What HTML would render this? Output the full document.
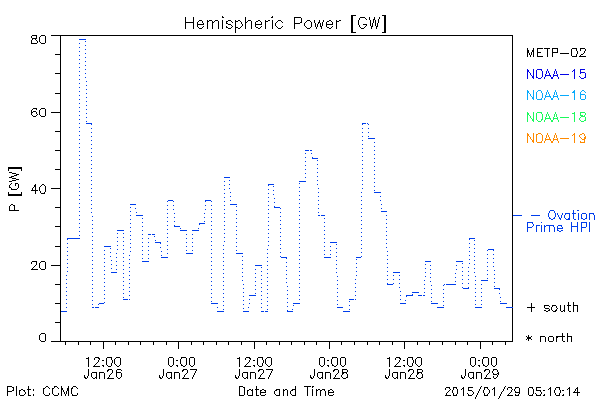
<!DOCTYPE html>
<html lang="en">
<head>
<meta charset="utf-8">
<title>Hemispheric Power [GW]</title>
<style>
html,body{margin:0;padding:0;background:#fff;font-family:"Liberation Sans",sans-serif;}
#plot{display:block;width:600px;height:400px;background:#fff;}
#plot path{fill:none;stroke-width:1;shape-rendering:crispEdges;}
#plot path.h{transform:translate(0,0.5px);}
#plot path.v{transform:translate(0.5px,0);}
</style>
</head>
<body>
<svg id="plot" width="600" height="400" viewBox="0 0 600 400" role="img" aria-label="Hemispheric Power [GW] versus Date and Time">
<rect width="600" height="400" fill="#fff"/>
<g>
<g class="axes" stroke="#000000"><title>Plot frame and axis ticks</title><path class="h" d="M51 35h462M55 54h5M55 73h5M55 93h5M51 112h9M55 131h5M55 150h5M55 169h5M51 188h9M55 207h5M55 226h5M55 246h5M51 265h9M55 284h5M55 303h5M55 322h5M51 341h462"/><path class="v" d="M60 36v305M65 342v3M78 342v3M90 342v3M103 342v7M115 342v3M128 342v3M140 342v3M153 342v3M166 342v3M178 342v7M191 342v3M203 342v3M216 342v3M228 342v3M241 342v3M254 342v7M266 342v3M279 342v3M291 342v3M304 342v3M316 342v3M329 342v7M341 342v3M354 342v3M367 342v3M379 342v3M392 342v3M404 342v7M417 342v3M429 342v3M442 342v3M455 342v3M467 342v3M480 342v7M492 342v3M505 342v3M512 36v305"/></g>
<g class="series" stroke="#003eec"><title>Ovation Prime hemispheric power, hourly step series (dotted connectors)</title><path class="h" d="M79 39h7M85 41h1M79 43h1M85 45h1M79 47h1M85 49h1M79 51h1M85 53h1M79 55h1M85 57h1M79 59h1M85 61h1M79 63h1M85 65h1M79 67h1M85 69h1M79 71h1M85 73h1M79 75h1M85 77h1M79 79h1M86 81h1M79 83h1M86 85h1M79 87h1M86 89h1M79 91h1M86 93h1M79 95h1M86 97h1M79 99h1M86 101h1M79 103h1M86 105h1M79 107h1M86 109h1M79 111h1M86 113h1M79 115h1M86 117h1M79 119h1M86 121h1M79 123h1M86 123h6M362 123h4M367 123h1M368 124h1M79 127h1M91 128h1M362 128h1M368 128h1M79 131h1M91 132h1M362 132h1M368 132h1M79 135h1M91 136h1M362 136h1M368 136h1M368 138h7M79 139h1M91 140h1M362 140h1M374 142h1M79 143h1M91 144h1M362 144h1M374 146h1M79 147h1M91 148h1M362 148h1M305 150h4M310 150h2M374 150h1M79 151h1M91 152h1M362 152h1M305 153h1M311 153h1M374 154h1M79 155h1M91 156h1M362 156h1M305 157h1M312 158h6M374 158h1M79 159h1M91 160h1M317 160h1M362 160h1M305 161h1M374 162h1M79 163h1M91 164h1M317 164h1M362 164h1M305 165h1M374 166h1M79 167h1M91 168h1M317 168h1M362 168h1M305 169h1M374 170h1M79 171h1M91 172h1M317 172h1M362 172h1M305 173h1M374 174h1M79 175h1M91 176h1M317 176h1M362 176h1M224 177h6M305 177h1M374 178h1M79 179h1M91 180h1M229 180h1M317 180h1M362 180h1M224 181h1M299 181h7M374 182h1M79 183h1M299 183h1M91 184h1M229 184h1M268 184h6M317 184h1M362 184h1M224 185h1M273 186h1M374 186h1M79 187h1M299 187h1M91 188h1M229 188h1M318 188h1M362 188h1M224 189h1M268 189h1M273 190h1M374 190h1M79 191h1M299 191h1M91 192h1M230 192h1M318 192h1M361 192h1M374 192h7M224 193h1M268 193h1M273 194h1M79 195h1M299 195h1M91 196h1M230 196h1M318 196h1M361 196h1M380 196h1M224 197h1M268 197h1M274 198h1M79 199h1M299 199h1M91 200h1M168 200h5M205 200h6M230 200h1M318 200h1M361 200h1M380 200h1M167 201h1M173 201h1M211 201h1M224 201h1M268 201h1M274 202h1M79 203h1M299 203h1M91 204h1M130 204h6M230 204h7M318 204h1M361 204h1M381 204h1M167 205h1M173 205h1M205 205h1M211 205h1M224 205h1M268 205h1M236 206h1M79 207h1M130 207h1M274 207h6M299 207h1M91 208h1M135 208h1M280 208h1M318 208h1M361 208h1M381 208h1M167 209h1M173 209h1M205 209h1M211 209h1M224 209h1M268 209h1M236 210h1M79 211h1M130 211h1M299 211h1M381 211h6M91 212h1M136 212h1M280 212h1M318 212h1M361 212h1M167 213h1M174 213h1M204 213h1M211 213h1M224 213h1M268 213h1M236 214h1M79 215h1M130 215h1M136 215h7M299 215h1M318 215h2M321 215h4M386 215h1M92 216h1M280 216h1M361 216h1M167 217h1M174 217h1M204 217h1M211 217h1M224 217h1M268 217h1M142 218h1M236 218h1M324 218h1M79 219h1M130 219h1M299 219h1M386 219h1M92 220h1M280 220h1M361 220h1M167 221h1M174 221h1M204 221h1M211 221h1M224 221h1M268 221h1M142 222h1M236 222h1M324 222h1M79 223h1M130 223h1M199 223h6M299 223h1M386 223h1M92 224h1M280 224h1M361 224h1M167 225h1M211 225h1M224 225h1M268 225h1M142 226h1M174 226h6M236 226h1M324 226h1M79 227h1M130 227h1M299 227h1M386 227h1M92 228h1M180 228h1M198 228h1M280 228h1M361 228h1M167 229h1M211 229h1M224 229h1M268 229h1M117 230h7M142 230h1M180 230h7M192 230h7M236 230h1M324 230h1M79 231h1M130 231h1M299 231h1M386 231h1M92 232h1M280 232h1M361 232h1M117 233h1M123 233h1M167 233h1M211 233h1M224 233h1M268 233h1M142 234h1M148 234h3M152 234h3M186 234h1M192 234h1M236 234h1M324 234h1M79 235h1M130 235h1M299 235h1M386 235h1M92 236h1M154 236h1M280 236h1M361 236h1M117 237h1M123 237h1M167 237h1M211 237h1M224 237h1M268 237h1M67 238h13M142 238h1M148 238h1M186 238h1M192 238h1M236 238h1M324 238h1M469 238h6M130 239h1M299 239h1M386 239h1M92 240h1M155 240h1M280 240h1M361 240h1M474 240h1M117 241h1M123 241h1M167 241h1M211 241h1M224 241h1M268 241h1M142 242h1M148 242h1M155 242h6M186 242h1M192 242h1M236 242h1M324 242h1M330 242h7M67 243h1M130 243h1M299 243h1M386 243h1M469 243h1M92 244h1M280 244h1M336 244h1M361 244h1M474 244h1M117 245h1M123 245h1M167 245h1M211 245h1M223 245h1M268 245h1M104 246h7M142 246h1M148 246h1M186 246h1M192 246h1M236 246h1M324 246h1M330 246h1M67 247h1M130 247h1M160 247h1M299 247h1M386 247h1M469 247h1M92 248h1M110 248h1M280 248h1M336 248h1M361 248h1M474 248h1M117 249h1M123 249h1M167 249h1M211 249h1M223 249h1M267 249h1M488 249h6M104 250h1M142 250h1M148 250h1M186 250h1M192 250h1M236 250h1M324 250h1M330 250h1M487 250h1M67 251h1M130 251h1M161 251h1M299 251h1M387 251h1M469 251h1M92 252h1M110 252h1M280 252h1M336 252h1M361 252h1M474 252h1M116 253h1M123 253h1M167 253h1M186 253h7M211 253h1M223 253h1M236 253h7M267 253h1M104 254h1M142 254h1M148 254h1M324 254h1M330 254h1M487 254h1M493 254h1M67 255h1M129 255h1M161 255h1M299 255h1M387 255h1M469 255h1M92 256h1M110 256h1M242 256h1M280 256h1M336 256h1M361 256h1M474 256h1M116 257h1M123 257h1M161 257h7M211 257h1M223 257h1M267 257h1M281 257h6M324 257h7M356 257h5M104 258h1M142 258h1M148 258h1M487 258h1M493 258h1M67 259h1M129 259h1M299 259h1M356 259h1M387 259h1M469 259h1M92 260h1M111 260h1M242 260h1M336 260h1M474 260h1M116 261h1M123 261h1M142 261h7M211 261h1M223 261h1M267 261h1M425 261h6M456 261h7M104 262h1M286 262h1M487 262h1M493 262h1M67 263h1M129 263h1M299 263h1M356 263h1M387 263h1M462 263h1M469 263h1M92 264h1M111 264h1M242 264h1M336 264h1M425 264h1M474 264h1M116 265h1M123 265h1M211 265h1M223 265h1M255 265h7M267 265h1M430 265h1M456 265h1M104 266h1M286 266h1M487 266h1M493 266h1M67 267h1M129 267h1M261 267h1M299 267h1M356 267h1M387 267h1M462 267h1M468 267h1M92 268h1M111 268h1M242 268h1M336 268h1M425 268h1M474 268h1M116 269h1M123 269h1M211 269h1M223 269h1M255 269h1M267 269h1M430 269h1M456 269h1M104 270h1M286 270h1M487 270h1M494 270h1M67 271h1M129 271h1M261 271h1M299 271h1M356 271h1M387 271h1M462 271h1M468 271h1M92 272h1M111 272h6M242 272h1M336 272h1M393 272h7M425 272h1M474 272h1M123 273h1M211 273h1M223 273h1M255 273h1M267 273h1M430 273h1M455 273h1M104 274h1M286 274h1M487 274h1M494 274h1M66 275h1M129 275h1M261 275h1M299 275h1M356 275h1M387 275h1M393 275h1M399 275h1M462 275h1M468 275h1M92 276h1M242 276h1M337 276h1M425 276h1M475 276h1M123 277h1M211 277h1M223 277h1M255 277h1M267 277h1M430 277h1M455 277h1M104 278h1M286 278h1M487 278h1M494 278h1M66 279h1M129 279h1M261 279h1M299 279h1M355 279h1M387 279h1M393 279h1M399 279h1M462 279h1M468 279h1M92 280h1M242 280h1M337 280h1M424 280h1M475 280h1M481 280h7M123 281h1M211 281h1M223 281h1M255 281h1M267 281h1M430 281h1M455 281h1M104 282h1M286 282h1M494 282h1M66 283h1M129 283h1M261 283h1M299 283h1M355 283h1M393 283h1M399 283h1M462 283h1M468 283h1M92 284h1M243 284h1M337 284h1M387 284h6M424 284h1M444 284h1M446 284h10M475 284h1M481 284h1M123 285h1M211 285h1M223 285h1M255 285h1M267 285h1M431 285h1M443 285h1M104 286h1M287 286h1M494 286h1M66 287h1M129 287h1M261 287h1M299 287h1M355 287h1M399 287h1M462 287h1M92 288h1M243 288h1M337 288h1M424 288h1M463 288h6M475 288h1M481 288h1M494 288h6M123 289h1M211 289h1M223 289h1M255 289h1M267 289h1M431 289h1M443 289h1M104 290h1M287 290h1M66 291h1M129 291h1M261 291h1M299 291h1M355 291h1M400 291h1M92 292h1M243 292h1M337 292h1M412 292h7M424 292h1M475 292h1M481 292h1M123 293h1M211 293h1M223 293h1M255 293h1M267 293h1M431 293h1M443 293h1M499 293h1M104 294h1M287 294h1M66 295h1M129 295h1M249 295h7M261 295h1M299 295h1M355 295h1M400 295h1M406 295h7M418 295h4M423 295h2M92 296h1M243 296h1M337 296h1M475 296h1M481 296h1M123 297h1M211 297h1M223 297h1M267 297h1M431 297h1M443 297h1M500 297h1M104 298h1M287 298h1M66 299h1M123 299h5M129 299h1M249 299h1M261 299h1M299 299h1M349 299h5M355 299h1M400 299h1M92 300h1M243 300h1M337 300h1M405 300h1M475 300h1M481 300h1M211 301h1M223 301h1M267 301h1M349 301h1M431 301h1M443 301h1M500 301h1M104 302h1M287 302h1M66 303h1M99 303h5M211 303h7M249 303h1M261 303h1M293 303h7M400 303h6M431 303h7M500 303h7M92 304h1M98 304h1M243 304h1M337 304h1M475 304h1M481 304h1M223 305h1M267 305h1M293 305h1M349 305h1M443 305h1M287 306h1M66 307h1M92 307h2M95 307h4M217 307h1M248 307h1M261 307h1M337 307h6M437 307h7M475 307h7M506 307h7M243 308h1M223 309h1M267 309h1M292 309h1M349 309h1M61 311h6M217 311h7M243 311h6M261 311h3M265 311h3M287 311h6M343 311h7"/><path class="v" d="M67 239v1M91 124v1M160 243v1M174 225v1M199 224v1M205 201v1M268 185v1M274 206v1M286 258v1M287 310v1M312 157v1M362 124v1M387 283v1M406 296v1M412 294v1M468 287v1M469 239v1M493 250v1M499 289v1"/></g>
<g class="label" stroke="#000000"><title>Hemispheric Power [GW]</title><path class="h" d="M353 15h3M382 15h2M222 17h2M271 17h2M295 17h6M360 17h5M365 18h1M366 19h1M199 20h3M209 20h3M215 20h3M228 20h3M238 20h2M248 20h3M258 20h2M268 20h2M278 20h3M307 20h3M329 20h2M339 20h2M198 21h1M208 21h1M214 21h1M227 21h1M231 21h1M236 21h2M240 21h1M247 21h1M256 21h2M260 21h1M266 21h2M277 21h1M281 21h1M306 21h1M310 21h1M327 21h2M331 21h1M337 21h2M186 22h7M213 22h1M232 22h1M246 22h1M276 22h1M282 22h1M300 22h1M305 22h1M318 22h1M227 23h1M295 23h5M197 24h7M228 24h3M255 24h7M326 24h7M363 24h4M231 25h1M203 26h1M232 26h1M241 26h1M261 26h1M276 26h1M282 26h1M305 26h1M332 26h1M365 26h1M198 27h1M202 27h1M226 27h2M231 27h1M236 27h2M240 27h1M256 27h2M260 27h1M277 27h1M281 27h1M306 27h1M310 27h1M327 27h2M331 27h1M360 27h1M364 27h1M199 28h3M228 28h3M238 28h2M258 28h2M278 28h3M307 28h3M329 28h2M361 28h3M353 32h3M382 32h2"/><path class="v" d="M185 17v12M193 17v12M197 22v5M202 21v2M203 23v1M207 20v9M212 21v8M218 21v8M222 16v1M222 20v9M226 21v3M226 26v1M235 20v13M241 22v2M242 24v2M245 17v12M251 21v8M255 22v5M261 22v2M265 20v9M272 16v1M272 20v9M275 23v3M294 17v12M301 18v5M304 23v3M311 22v5M314 20v3M315 23v4M316 27v2M317 24v3M318 23v1M319 20v3M320 23v4M321 26v3M322 22v4M323 20v2M326 22v5M332 22v2M336 20v9M351 15v18M352 15v18M358 20v5M359 18v2M359 25v2M366 25v1M369 17v3M370 20v6M371 26v3M372 23v4M373 19v4M374 17v3M375 20v6M376 26v3M377 23v4M378 19v4M379 17v2M384 15v18M385 15v18"/></g>
<g class="label" stroke="#000000"><title>80</title><path class="h" d="M32 35h5M41 35h4M40 36h1M32 38h5M36 40h1M40 42h1M31 43h6M41 43h4"/><path class="v" d="M31 36v2M31 40v3M32 39v1M35 39v1M36 36v2M37 41v2M39 37v5M45 36v7"/></g>
<g class="label" stroke="#000000"><title>60</title><path class="h" d="M33 108h4M41 108h4M32 109h1M40 109h1M33 111h3M32 112h1M37 114h1M32 115h1M36 115h1M40 115h1M33 116h3M41 116h4"/><path class="v" d="M31 110v5M36 109v1M36 112v2M39 110v5M45 109v7"/></g>
<g class="label" stroke="#000000"><title>40</title><path class="h" d="M42 184h2M34 185h1M41 185h1M44 185h1M34 186h1M40 186h1M33 187h1M31 190h7M41 193h4"/><path class="v" d="M32 188v2M35 184v10M39 187v4M40 191v2M44 192v1M45 186v6"/></g>
<g class="label" stroke="#000000"><title>20</title><path class="h" d="M32 261h5M41 261h4M40 262h1M35 265h1M34 266h1M33 267h1M40 268h1M31 269h7M41 269h4"/><path class="v" d="M31 262v2M32 268v1M36 262v3M39 263v5M45 262v7"/></g>
<g class="label" stroke="#000000"><title>0</title><path class="h" d="M41 333h4M40 334h1M40 340h1M41 341h4"/><path class="v" d="M39 335v5M45 334v7"/></g>
<g class="label" stroke="#000000"><title>P [GW]</title><path class="h" d="M8 167h14M8 168h14M9 172h3M12 173h4M16 174h3M14 175h3M11 176h3M9 177h3M12 178h4M16 179h3M12 180h4M9 181h3M11 183h1M15 183h3M10 184h1M10 187h1M17 188h1M11 189h6M8 194h14M8 195h14M11 204h2M10 205h1M13 205h1M9 210h10"/><path class="v" d="M8 169v2M8 192v2M9 185v3M9 206v4M11 188v1M14 205v5M15 184v2M18 184v4M21 169v2M21 192v2"/></g>
<g class="label" stroke="#000000"><title>12:00</title><path class="h" d="M95 357h4M107 357h5M116 357h4M86 358h2M98 358h2M115 358h1M102 360h2M97 362h1M96 363h1M95 364h1M115 364h1M102 365h2M107 365h1M116 365h1M119 365h1M93 366h7M108 366h3M117 366h2"/><path class="v" d="M88 357v10M94 358v2M94 365v1M98 360v2M99 359v1M103 366v1M106 358v7M111 358v2M111 363v3M112 360v3M114 359v5M120 358v7"/></g>
<g class="label" stroke="#000000"><title>Jan26</title><path class="h" d="M108 369h4M117 369h4M107 370h2M121 370h1M92 372h4M100 372h4M117 372h4M111 373h1M110 374h1M85 377h1M92 377h1M95 377h1M117 377h1M120 377h1M85 378h2M93 378h2M107 378h7M118 378h2"/><path class="v" d="M84 375v3M87 376v2M88 369v7M91 373v4M96 372v7M99 372v7M104 373v6M107 371v1M108 377v1M109 375v2M112 370v3M116 370v7M121 373v4"/></g>
<g class="label" stroke="#000000"><title>0:00</title><path class="h" d="M169 357h4M181 357h5M190 357h4M176 360h2M169 365h1M172 365h1M176 365h2M181 365h2M185 365h1M190 365h1M193 365h1M170 366h2M183 366h2M191 366h2"/><path class="v" d="M168 358v7M173 358v7M177 366v1M180 359v5M181 358v1M181 364v1M186 358v7M189 358v7M194 358v7"/></g>
<g class="label" stroke="#000000"><title>Jan27</title><path class="h" d="M183 369h4M190 369h7M182 370h2M167 372h4M175 372h4M186 373h1M185 374h1M160 377h1M167 377h1M170 377h1M160 378h2M168 378h2M182 378h7"/><path class="v" d="M159 375v3M162 376v2M163 369v7M166 373v4M171 372v7M174 372v7M179 373v6M182 371v1M183 377v1M184 375v2M187 370v3M192 377v2M193 375v2M194 373v2M195 371v2M196 370v1"/></g>
<g class="label" stroke="#000000"><title>12:00</title><path class="h" d="M246 357h4M258 357h5M267 357h4M237 358h2M249 358h2M266 358h1M253 360h2M248 362h1M247 363h1M246 364h1M266 364h1M253 365h2M258 365h1M267 365h1M270 365h1M244 366h7M259 366h3M268 366h2"/><path class="v" d="M239 357v10M245 358v2M245 365v1M249 360v2M250 359v1M254 366v1M257 358v7M262 358v2M262 363v3M263 360v3M265 359v5M271 358v7"/></g>
<g class="label" stroke="#000000"><title>Jan27</title><path class="h" d="M259 369h4M266 369h7M258 370h2M243 372h4M251 372h4M262 373h1M261 374h1M236 377h1M243 377h1M246 377h1M236 378h2M244 378h2M258 378h7"/><path class="v" d="M235 375v3M238 376v2M239 369v7M242 373v4M247 372v7M250 372v7M255 373v6M258 371v1M259 377v1M260 375v2M263 370v3M268 377v2M269 375v2M270 373v2M271 371v2M272 370v1"/></g>
<g class="label" stroke="#000000"><title>0:00</title><path class="h" d="M320 357h4M332 357h5M341 357h4M327 360h2M320 365h1M323 365h1M327 365h2M332 365h2M336 365h1M341 365h1M344 365h1M321 366h2M334 366h2M342 366h2"/><path class="v" d="M319 358v7M324 358v7M328 366v1M331 359v5M332 358v1M332 364v1M337 358v7M340 358v7M345 358v7"/></g>
<g class="label" stroke="#000000"><title>Jan28</title><path class="h" d="M334 369h4M343 369h4M333 370h2M318 372h4M326 372h4M343 372h4M337 373h1M343 373h1M336 374h1M311 377h1M318 377h1M321 377h1M342 377h1M346 377h1M311 378h2M319 378h2M333 378h7M343 378h3"/><path class="v" d="M310 375v3M313 376v2M314 369v7M317 373v4M322 372v7M325 372v7M330 373v6M333 371v1M334 377v1M335 375v2M338 370v3M341 375v2M342 369v6M346 373v1M347 370v2M347 374v4"/></g>
<g class="label" stroke="#000000"><title>12:00</title><path class="h" d="M396 357h4M408 357h5M417 357h4M387 358h2M399 358h2M416 358h1M403 360h2M398 362h1M397 363h1M396 364h1M416 364h1M403 365h2M408 365h1M417 365h1M420 365h1M394 366h7M409 366h3M418 366h2"/><path class="v" d="M389 357v10M395 358v2M395 365v1M399 360v2M400 359v1M404 366v1M407 358v7M412 358v2M412 363v3M413 360v3M415 359v5M421 358v7"/></g>
<g class="label" stroke="#000000"><title>Jan28</title><path class="h" d="M409 369h4M418 369h4M408 370h2M393 372h4M401 372h4M418 372h4M412 373h1M418 373h1M411 374h1M386 377h1M393 377h1M396 377h1M417 377h1M421 377h1M386 378h2M394 378h2M408 378h7M418 378h3"/><path class="v" d="M385 375v3M388 376v2M389 369v7M392 373v4M397 372v7M400 372v7M405 373v6M408 371v1M409 377v1M410 375v2M413 370v3M416 375v2M417 369v6M421 373v1M422 370v2M422 374v4"/></g>
<g class="label" stroke="#000000"><title>0:00</title><path class="h" d="M471 357h4M483 357h5M492 357h4M478 360h2M471 365h1M474 365h1M478 365h2M483 365h2M487 365h1M492 365h1M495 365h1M472 366h2M485 366h2M493 366h2"/><path class="v" d="M470 358v7M475 358v7M479 366v1M482 359v5M483 358v1M483 364v1M488 358v7M491 358v7M496 358v7"/></g>
<g class="label" stroke="#000000"><title>Jan29</title><path class="h" d="M485 369h4M493 369h4M484 370h2M469 372h4M477 372h4M488 373h1M497 373h1M487 374h1M493 374h4M462 377h1M469 377h1M472 377h1M496 377h1M462 378h2M470 378h2M484 378h7M494 378h2"/><path class="v" d="M461 375v3M464 376v2M465 369v7M468 373v4M473 372v7M476 372v7M481 373v6M484 371v1M485 377v1M486 375v2M489 370v3M492 371v2M493 370v1M493 373v1M493 376v2M497 370v2M497 375v2M498 372v3"/></g>
<g class="label" stroke="#000000"><title>Plot: CCMC</title><path class="h" d="M8 386h4M46 386h2M54 386h3M73 386h3M12 387h1M45 387h1M48 387h1M57 387h1M76 387h1M44 388h1M49 388h1M53 388h1M58 388h1M62 388h1M72 388h1M77 388h1M21 389h2M27 389h4M62 389h1M12 390h1M20 390h1M23 390h2M8 391h4M24 394h1M44 394h1M53 394h1M20 395h4M29 395h2M45 395h4M54 395h4M72 395h5"/><path class="v" d="M7 386v10M13 387v4M16 386v10M19 390v5M24 391v1M25 392v2M28 386v10M33 389v2M33 394v2M43 388v6M49 393v2M52 388v6M54 387v1M58 393v2M61 386v10M63 390v2M64 392v2M65 394v2M66 391v3M67 388v3M68 386v10M71 388v6M72 387v1M72 394v1M77 393v2"/></g>
<g class="label" stroke="#000000"><title>Date and Time</title><path class="h" d="M240 386h3M304 386h7M312 386h2M243 387h1M249 389h2M255 389h4M262 389h2M276 389h3M285 389h2M292 389h3M318 389h2M322 389h3M330 389h2M248 390h1M251 390h1M261 390h1M264 390h1M275 390h2M284 390h1M291 390h2M317 390h1M321 390h1M329 390h1M332 390h1M260 392h6M328 392h6M265 394h1M275 394h1M291 394h1M333 394h1M240 395h4M248 395h4M257 395h2M261 395h4M276 395h3M292 395h3M329 395h4"/><path class="v" d="M239 386v10M244 387v8M247 390v5M252 389v7M256 386v10M260 390v5M265 390v2M274 391v3M279 389v7M283 389v7M287 390v6M290 391v3M295 386v10M307 386v10M312 387v1M312 389v7M316 389v7M320 390v6M324 390v1M325 391v5M328 390v5M333 391v1"/></g>
<g class="label" stroke="#000000"><title>2015/01/29 05:10:14</title><path class="h" d="M481 386h1M505 386h1M446 387h4M453 387h4M468 387h5M484 387h4M508 387h4M515 387h4M529 387h4M536 387h5M556 387h4M462 388h1M493 388h1M549 388h1M568 388h1M576 388h1M450 389h1M461 389h1M488 389h1M492 389h1M512 389h1M548 389h1M567 389h1M449 390h1M468 390h4M536 390h5M543 390h2M562 390h2M448 391h1M472 391h1M502 391h1M447 392h1M510 392h1M515 392h4M573 392h7M467 393h1M488 393h1M509 393h1M535 393h1M472 394h1M445 395h6M453 395h4M468 395h4M484 395h4M507 395h6M515 395h4M529 395h4M536 395h5M543 395h2M556 395h4M562 395h2M498 398h1"/><path class="v" d="M445 388v2M446 393v2M449 388v1M452 390v3M453 388v2M453 393v2M456 388v1M456 394v1M457 389v5M463 387v9M468 388v2M468 394v1M473 392v2M475 397v2M476 395v2M477 393v2M478 391v2M479 389v2M480 387v2M483 390v3M484 388v2M484 393v2M487 388v1M487 394v1M489 390v3M494 387v9M499 396v2M500 394v2M501 392v2M503 389v2M504 387v2M507 388v2M508 394v1M511 388v1M511 390v2M514 389v2M515 388v1M515 391v1M515 394v1M518 394v1M519 388v6M528 388v7M532 388v1M532 394v1M533 389v5M536 388v2M536 394v1M540 391v1M540 394v1M541 392v2M544 394v1M550 387v9M554 390v3M555 388v2M555 393v2M559 388v2M559 393v2M560 390v3M563 394v1M569 387v9M574 391v1M575 389v2M577 387v9"/></g>
<g class="label" stroke="#000000"><title>METP-02</title><path class="h" d="M538 48h5M544 48h6M553 48h5M572 48h5M580 48h5M532 50h1M532 51h1M538 52h3M553 52h5M560 53h9M583 53h1M581 54h2M538 56h5M572 56h5M579 56h7"/><path class="v" d="M527 48v9M528 50v3M529 53v2M530 55v2M531 52v3M533 48v9M537 48v9M547 48v9M552 48v9M557 49v3M571 49v7M576 49v2M576 54v2M577 51v3M580 49v2M580 55v1M584 51v2M585 49v2"/></g>
<g class="label" stroke="#0505e6"><title>NOAA-15</title><path class="h" d="M537 69h5M580 69h5M528 70h1M573 70h1M528 71h1M572 71h1M529 72h1M580 72h5M560 74h9M531 75h1M545 75h6M553 75h5M532 76h1M579 76h1M532 77h1M537 77h1M541 77h1M551 77h2M580 77h1M584 77h1M538 78h3M551 78h2M581 78h3"/><path class="v" d="M527 69v10M530 73v2M533 69v10M536 70v8M541 70v1M542 71v6M544 77v2M545 74v3M546 71v3M547 69v2M548 71v2M549 73v2M550 76v1M553 74v3M554 71v3M555 69v2M556 71v3M557 74v3M558 77v2M574 69v10M580 70v4M585 73v5"/></g>
<g class="label" stroke="#08aafc"><title>NOAA-16</title><path class="h" d="M538 90h3M582 90h2M528 91h1M537 91h1M573 91h1M581 91h1M584 91h1M528 92h1M572 92h2M585 92h1M529 93h1M581 94h4M560 95h9M531 96h1M545 96h6M553 96h5M532 97h1M532 98h1M551 98h2M537 99h5M551 99h2M581 99h4"/><path class="v" d="M527 90v10M530 94v2M533 90v10M536 92v7M541 91v2M541 98v1M542 93v5M544 98v2M545 95v3M546 92v3M547 90v2M548 92v2M549 94v2M550 97v1M553 95v3M554 92v3M555 90v2M556 92v3M557 95v3M558 98v2M574 90v10M580 92v7M585 95v4"/></g>
<g class="label" stroke="#1cfa5c"><title>NOAA-18</title><path class="h" d="M537 112h5M580 112h5M528 113h1M572 113h2M528 114h1M529 115h1M581 115h2M581 116h4M560 117h9M580 117h1M531 118h1M545 118h6M553 118h5M532 119h1M541 119h1M532 120h1M537 120h1M551 120h2M580 120h1M584 120h1M538 121h3M551 121h2M581 121h3"/><path class="v" d="M527 112v10M530 116v2M533 112v10M536 113v7M541 113v1M541 120v1M542 114v6M544 120v2M545 117v3M546 114v3M547 112v2M548 114v2M549 116v2M550 119v1M553 117v3M554 114v3M555 112v2M556 114v3M557 117v3M558 120v2M574 112v10M579 118v2M580 113v3M584 115v1M585 113v2M585 117v4"/></g>
<g class="label" stroke="#ff8a00"><title>NOAA-19</title><path class="h" d="M538 133h3M582 133h2M528 134h1M537 134h1M541 134h1M573 134h1M580 134h2M528 135h1M572 135h1M529 136h1M580 137h1M560 138h9M581 138h1M531 139h1M545 139h6M553 139h5M582 139h2M532 140h1M532 141h1M551 141h2M537 142h5M551 142h2M580 142h4"/><path class="v" d="M527 133v10M530 137v2M533 133v10M536 134v8M541 141v1M542 135v6M544 141v2M545 138v3M546 135v3M547 133v2M548 135v2M549 137v2M550 140v1M553 138v3M554 135v3M555 133v2M556 135v3M557 138v3M558 141v2M574 133v10M579 135v2M580 141v1M584 134v2M584 137v6M585 136v3"/></g>
<g class="label" stroke="#003eec"><title>- Ovation</title><path class="h" d="M550 210h4M577 210h2M565 213h4M572 213h4M582 213h4M590 213h4M531 215h9M549 218h2M553 218h2M559 218h2M565 218h1M568 218h1M582 218h1M585 218h1M551 219h2M566 219h3M574 219h2M583 219h2"/><path class="v" d="M548 213v4M549 211v2M549 217v1M554 211v2M554 217v1M555 213v4M557 213v2M558 215v2M559 217v1M560 219v1M561 215v3M562 213v2M564 215v3M565 214v1M569 213v7M573 210v9M578 213v7M581 214v5M586 214v5M589 213v7M593 214v1M594 215v5"/></g>
<g class="label" stroke="#003eec"><title>Prime HPI</title><path class="h" d="M528 222h5M541 222h1M582 222h5M537 225h3M546 225h8M558 225h4M532 226h1M545 226h1M572 226h5M528 227h4M582 227h4M557 228h6M558 230h1M561 230h2M559 231h2"/><path class="v" d="M527 222v10M532 223v1M533 224v2M536 225v7M541 225v7M544 225v7M549 226v6M553 226v1M554 227v5M557 226v5M561 226v1M562 227v1M571 222v10M577 222v10M581 222v10M586 223v4M589 222v10"/></g>
<g class="key" stroke="#003eec"><title>Ovation Prime HPI line key</title><path class="h" d="M513 215h9"/></g>
<g class="label" stroke="#000000"><title>+ south</title><path class="h" d="M544 305h5M552 305h4M567 305h4M574 305h3M549 306h1M527 307h8M545 308h4M557 308h1M544 310h2M548 310h2M552 310h1M555 310h2M563 310h1M546 311h2M553 311h3M561 311h2M569 311h2"/><path class="v" d="M531 303v9M544 306v2M549 309v1M551 307v3M552 306v1M556 306v2M556 309v1M560 305v6M564 305v7M568 302v9M573 302v10M577 305v7"/></g>
<g class="label" stroke="#000000"><title>* north</title><path class="h" d="M526 336h1M531 336h1M541 336h4M549 336h4M556 336h9M568 336h3M527 337h4M557 337h1M527 338h4M526 339h1M531 339h1M549 341h4M563 341h2"/><path class="v" d="M528 335v6M540 336v6M545 337v5M548 337v4M553 337v4M556 337v5M562 333v8M567 333v9M571 336v6"/></g>
</g>
</svg>
</body>
</html>
